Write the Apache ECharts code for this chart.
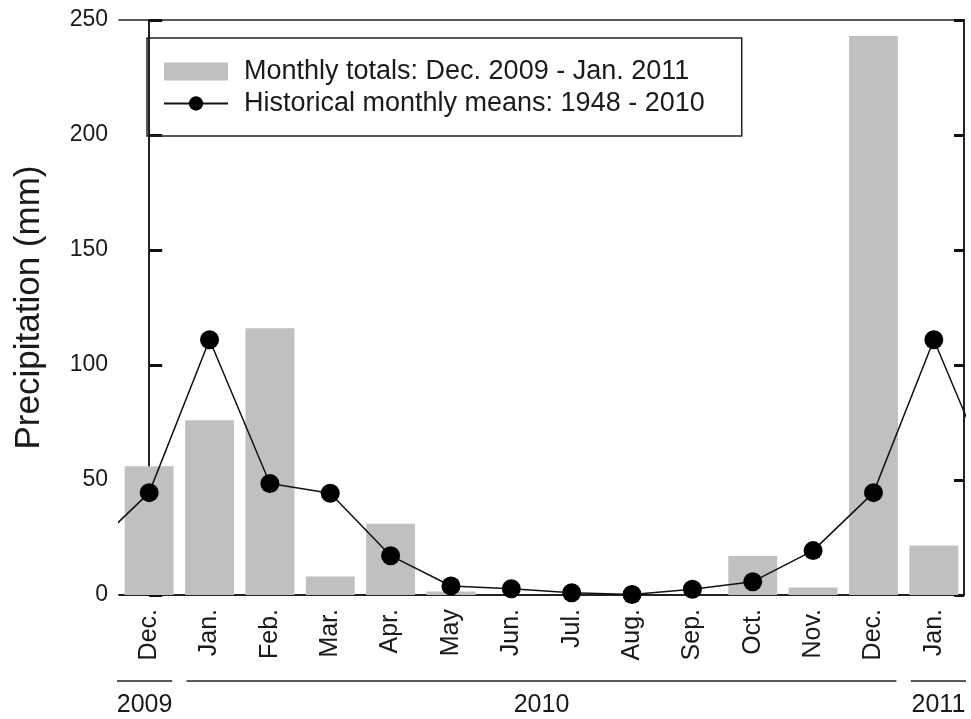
<!DOCTYPE html>
<html>
<head>
<meta charset="utf-8">
<script src="https://cdn.jsdelivr.net/npm/echarts@6/dist/echarts.min.js"></script>
<style>
  html, body { margin: 0; padding: 0; background: #fff; }
  #chart { width: 971px; height: 719px; }
</style>
</head>
<body>
<div id="chart"></div>
<script>
// months shown on the axis, Dec. 2009 .. Jan. 2011
const months = ['Dec.', 'Jan.', 'Feb.', 'Mar.', 'Apr.', 'May', 'Jun.', 'Jul.', 'Aug.', 'Sep.', 'Oct.', 'Nov.', 'Dec.', 'Jan.'];
// monthly totals (mm)
const monthlyTotals = [56, 76, 116, 8, 31, 1.5, 0, 0, 0, 0, 17, 3.3, 243, 21.5];
// historical monthly means, with Nov. before and Feb. after so the line runs off the frame
const meanPos = [-1, 0, 1, 2, 3, 4, 5, 6, 7, 8, 9, 10, 11, 12, 13, 14];
const monthlyMeans = [19.3, 44.5, 111, 48.5, 44.2, 17.1, 3.9, 2.7, 1, 0.2, 2.5, 5.8, 19.3, 44.5, 111, 48.5];
// year groups under the month labels: [label, first index, last index]
const yearGroups = [['2009', 0, 0], ['2010', 1, 12], ['2011', 13, 13]];
const yTicks = [0, 50, 100, 150, 200, 250];

const font = '"Liberation Sans", Arial, sans-serif';
const ink = '#1a1a1a';
const gridLeft = 119;
const gridRight = 7;

const chart = echarts.init(document.getElementById('chart'));

const option = {
  animation: false,
  grid: { left: gridLeft, right: gridRight, top: 20, bottom: 124 },
  legend: {
    orient: 'vertical',
    left: 147,
    top: 38,
    padding: [20, 37, 19, 16],
    itemWidth: 64,
    itemHeight: 18,
    itemGap: 5,
    borderColor: '#222',
    borderWidth: 1.5,
    textStyle: { fontFamily: font, fontSize: 27, lineHeight: 27, color: ink, padding: [0, 0, 0, 11] },
    data: [
      { name: 'Monthly totals: Dec. 2009 - Jan. 2011', icon: 'rect' },
      { name: 'Historical monthly means: 1948 - 2010' }
    ]
  },
  xAxis: [
    {
      type: 'category',
      data: months,
      axisLine: { lineStyle: { color: '#222', width: 2 } },
      axisTick: { show: false },
      axisLabel: {
        rotate: 90,
        margin: 14,
        fontFamily: font,
        fontSize: 25,
        color: ink
      }
    },
    {
      type: 'value',
      position: 'top',
      min: -0.5,
      max: 13.5,
      axisLine: { show: true, onZero: false, lineStyle: { color: '#222', width: 1.5 } },
      axisTick: { show: false },
      axisLabel: { show: false },
      splitLine: { show: false }
    }
  ],
  yAxis: [
    {
      type: 'value',
      min: 0,
      max: 250,
      interval: 50,
      name: 'Precipitation (mm)',
      nameLocation: 'middle',
      nameGap: 72,
      nameTextStyle: { fontFamily: font, fontSize: 35, color: ink },
      axisLine: { show: true, lineStyle: { color: '#222', width: 2 } },
      axisTick: { show: true, inside: true, length: 13, lineStyle: { color: '#111', width: 3 } },
      axisLabel: {
        margin: 11,
        fontFamily: font,
        fontSize: 23,
        color: ink,
        formatter: (v) => (yTicks.indexOf(v) >= 0 ? String(v) : '')
      },
      splitLine: { show: false }
    },
    {
      type: 'value',
      position: 'right',
      min: 0,
      max: 250,
      interval: 50,
      axisLine: { show: true, lineStyle: { color: '#222', width: 2 } },
      axisTick: { show: true, inside: true, length: 10, lineStyle: { color: '#111', width: 3 } },
      axisLabel: { show: false },
      splitLine: { show: false }
    }
  ],
  series: [
    {
      name: 'Monthly totals: Dec. 2009 - Jan. 2011',
      type: 'bar',
      xAxisIndex: 0,
      yAxisIndex: 0,
      barWidth: '81%',
      itemStyle: { color: '#c0c0c0' },
      data: monthlyTotals
    },
    {
      name: 'Historical monthly means: 1948 - 2010',
      type: 'line',
      xAxisIndex: 1,
      yAxisIndex: 0,
      clip: true,
      symbol: 'circle',
      symbolSize: 19,
      itemStyle: { color: '#000' },
      lineStyle: { color: '#111', width: 1.5 },
      data: meanPos.map((p, i) => [p, monthlyMeans[i]])
    }
  ]
};

chart.setOption(option);

// year brackets under the month labels
const lineY = 681;
const graphics = [];
yearGroups.forEach(([label, a, b]) => {
  const x0 = a === 0 ? gridLeft - 2 : chart.convertToPixel({ xAxisIndex: 0 }, a) - 23;
  const x1 = b === months.length - 1 ? 971 - gridRight + 2 : chart.convertToPixel({ xAxisIndex: 0 }, b) + 23;
  graphics.push({
    type: 'line',
    shape: { x1: x0, y1: lineY, x2: x1, y2: lineY },
    style: { stroke: '#222', lineWidth: 1.5 }
  });
  graphics.push({
    type: 'text',
    x: (x0 + x1) / 2,
    y: lineY + 12,
    style: {
      text: label,
      fill: ink,
      font: '25px ' + font,
      textAlign: 'center',
      textVerticalAlign: 'top'
    }
  });
});
chart.setOption({ graphic: graphics });
</script>
</body>
</html>
